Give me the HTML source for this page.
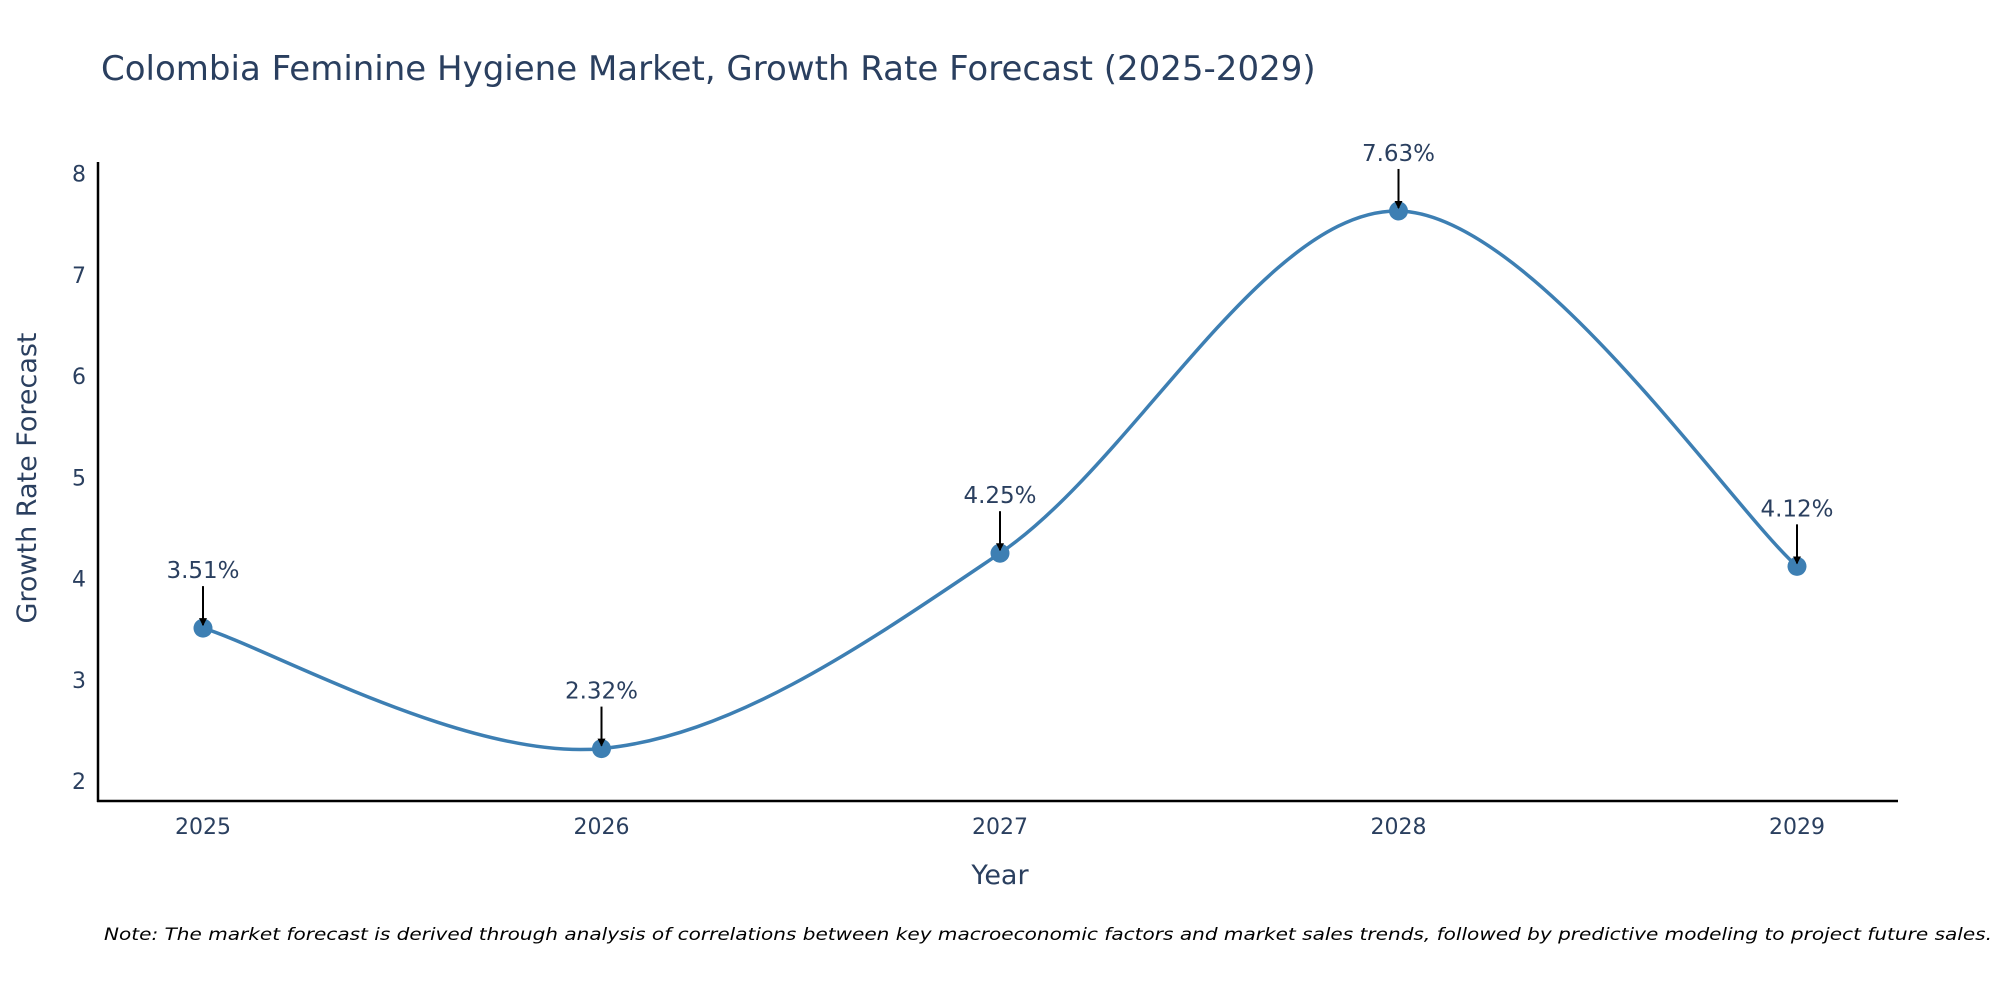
<!DOCTYPE html>
<html><head><meta charset="utf-8"><style>
body{margin:0;background:#fff;}
svg text{font-family:"DejaVu Sans","Liberation Sans",sans-serif;fill:#2a3f5f;}
</style></head><body>
<svg id="chart" width="2000" height="1000" viewBox="0 0 2000 1000" xmlns="http://www.w3.org/2000/svg">
<text x="101" y="80" font-size="34">Colombia Feminine Hygiene Market, Growth Rate Forecast (2025-2029)</text>
<g id="plot"></g>
<line x1="98" y1="162" x2="98" y2="802" stroke="#000" stroke-width="2.5"/>
<line x1="97" y1="801" x2="1898" y2="801" stroke="#000" stroke-width="2.5"/>
<text x="1000" y="884" font-size="27" text-anchor="middle">Year</text>
<text transform="translate(36,478) rotate(-90)" font-size="27" text-anchor="middle">Growth Rate Forecast</text>
<text x="104" y="940" font-size="17" font-style="italic" style="fill:#000" textLength="1888" lengthAdjust="spacingAndGlyphs">Note: The market forecast is derived through analysis of correlations between key macroeconomic factors and market sales trends, followed by predictive modeling to project future sales.</text>
<defs><marker id="ah" markerWidth="8" markerHeight="8" refX="7" refY="4" orient="auto" markerUnits="userSpaceOnUse" viewBox="0 0 8 8"><path d="M0,0 L8,4 L0,8 z" fill="#000"/></marker></defs>
</svg>
<script>
const years = ["2025","2026","2027","2028","2029"];
const values = [3.51, 2.32, 4.25, 7.63, 4.12];
const yTicks = [2,3,4,5,6,7,8];
const NS="http://www.w3.org/2000/svg";
const svg=document.getElementById('chart');
const plot=document.getElementById('plot');
function xs(i){return 203+(1797-203)*i/(years.length-1);}
function ys(v){return 781-(v-2)*(781-173.5)/6;}
function mk(tag,attrs,parent){const e=document.createElementNS(NS,tag);for(const k in attrs)e.setAttribute(k,attrs[k]);(parent||svg).appendChild(e);return e;}
yTicks.forEach(t=>{const e=mk('text',{x:86,y:ys(t)+8,'font-size':22,'text-anchor':'end'});e.textContent=t;

});
years.forEach((y,i)=>{const e=mk('text',{x:xs(i),y:834,'font-size':22,'text-anchor':'middle'});e.textContent=y;

});
const P=values.map((v,i)=>[xs(i),ys(v)]);
let d=`M${P[0][0]},${P[0][1]}`;
for(let i=0;i<P.length-1;i++){const p0=P[Math.max(i-1,0)],p1=P[i],p2=P[i+1],p3=P[Math.min(i+2,P.length-1)];
const c1=[p1[0]+(p2[0]-p0[0])/6,p1[1]+(p2[1]-p0[1])/6],c2=[p2[0]-(p3[0]-p1[0])/6,p2[1]-(p3[1]-p1[1])/6];
d+=` C${c1[0]},${c1[1]} ${c2[0]},${c2[1]} ${p2[0]},${p2[1]}`;}
const line=mk('path',{d:d,fill:'none',stroke:'#3d7fb3','stroke-width':3.5},plot);


P.forEach((p,i)=>{const c=mk('circle',{cx:p[0],cy:p[1],r:9.5,fill:'#3d7fb3'},plot);


const a=mk('line',{x1:p[0],y1:p[1]-42,x2:p[0],y2:p[1]-3,stroke:'#000','stroke-width':2,'marker-end':'url(#ah)'});


const t=mk('text',{x:p[0],y:p[1]-50,'font-size':23,'text-anchor':'middle'});t.textContent=values[i].toFixed(2)+'%';

});
</script>
</body></html>
